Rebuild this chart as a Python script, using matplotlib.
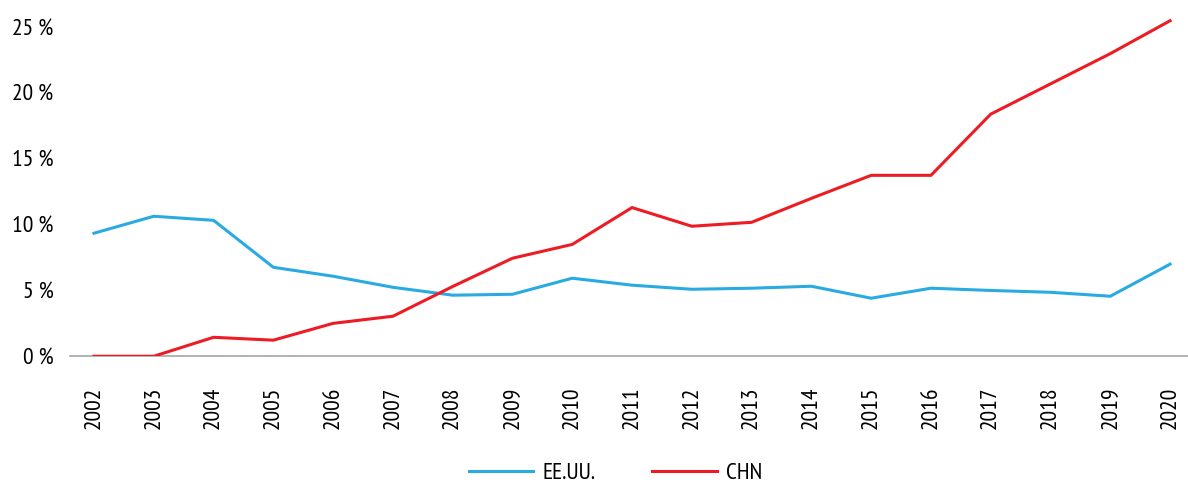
import matplotlib
matplotlib.use('Agg')
import matplotlib.pyplot as plt
from matplotlib.ticker import FuncFormatter

years = list(range(2002, 2021))
eeuu = [9.35, 10.64, 10.33, 6.76, 6.08, 5.24, 4.64, 4.71, 5.93, 5.40,
        5.09, 5.17, 5.32, 4.41, 5.17, 5.00, 4.86, 4.56, 7.00]
chn = [0.0, 0.0, 1.44, 1.22, 2.50, 3.04, 5.30, 7.45, 8.50, 11.30,
       9.88, 10.18, 12.00, 13.75, 13.75, 18.40, 20.70, 23.00, 25.50]

# condensed font similar to the original
plt.rcParams['font.family'] = ['PT Sans Narrow', 'Roboto Condensed', 'Liberation Sans', 'DejaVu Sans']
plt.rcParams['font.size'] = 17

fig = plt.figure(figsize=(11.88, 4.88), dpi=100)
ax = fig.add_axes([0.059, 0.270, 0.941, 0.701])

ax.plot(years, eeuu, color='#29ABE2', lw=2.2, label='EE.UU.', zorder=3)
ax.plot(years, chn, color='#ED1C24', lw=2.2, label='CHN', zorder=3)

ax.set_xlim(2001.6, 2020.3)
ax.set_ylim(0, 26)
ax.set_yticks([0, 5, 10, 15, 20, 25])
ax.yaxis.set_major_formatter(FuncFormatter(lambda v, p: f'{int(v)} %'))
ax.set_xticks(years)
ax.set_xticklabels([str(y) for y in years], rotation=90)

for s in ['top', 'right', 'left']:
    ax.spines[s].set_visible(False)
ax.spines['bottom'].set_color('#A6A6A6')
ax.spines['bottom'].set_linewidth(1.2)
ax.tick_params(axis='both', length=0, labelsize=17, colors='black')
ax.tick_params(axis='y', pad=12)
ax.tick_params(axis='x', pad=22)

fig.legend(loc='center', bbox_to_anchor=(0.518, 0.03), ncol=2, frameon=False,
           handlelength=2.75, handletextpad=0.38, columnspacing=2.4, fontsize=17)

fig.savefig('out.png', dpi=100)
